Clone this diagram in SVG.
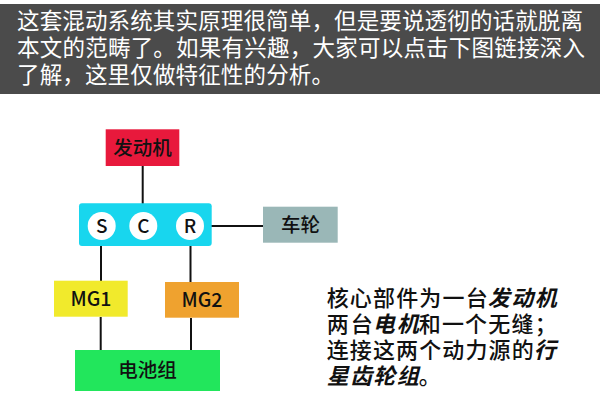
<svg xmlns="http://www.w3.org/2000/svg" width="600" height="417" viewBox="0 0 600 417">
<style>
.hd{font-family:"Noto Sans CJK SC","Noto Sans CJK JP",sans-serif;font-size:22.5px;fill:#ffffff}
.lb{font-family:"Noto Sans CJK SC","Noto Sans CJK JP",sans-serif;font-size:19.5px;font-weight:500;fill:#111111;text-anchor:middle}
.ltr{font-family:"Noto Sans CJK SC","Open Sans",sans-serif;font-size:19px;font-weight:500;fill:#111111;text-anchor:middle}
.bx{stroke:none}
.ln{stroke:#111111;stroke-width:2;fill:none}
.rt{font-family:"Noto Sans CJK SC","Noto Sans CJK JP",sans-serif;font-size:22px;font-weight:500;fill:#111111}
.em{font-weight:bold;font-style:italic}
</style>
<rect x="0" y="0" width="600" height="417" fill="#ffffff"/>
<g id="header">
<rect x="0" y="4" width="600" height="90" fill="#4b4b4b"/>
<text class="hd" x="17" y="29" textLength="566" lengthAdjust="spacing">这套混动系统其实原理很简单，但是要说透彻的话就脱离</text>
<text class="hd" x="17" y="56" textLength="568" lengthAdjust="spacing">本文的范畴了。如果有兴趣，大家可以点击下图链接深入</text>
<text class="hd" x="17" y="83" textLength="317" lengthAdjust="spacing">了解，这里仅做特征性的分析。</text>
</g>
<g id="connectors">
<line class="ln" x1="142.7" y1="166" x2="142.7" y2="204"/>
<line class="ln" x1="101.7" y1="226" x2="190" y2="226"/>
<line class="ln" x1="190" y1="226" x2="263" y2="226"/>
<line class="ln" x1="101" y1="246" x2="101" y2="281"/>
<line class="ln" x1="190.5" y1="246" x2="190.5" y2="282"/>
<line class="ln" x1="100.7" y1="317" x2="100.7" y2="350"/>
<line class="ln" x1="191" y1="318" x2="191" y2="350"/>
</g>
<g id="engine">
<rect class="bx" x="105.7" y="129.3" width="73.6" height="36.7" fill="#e8193c"/>
<text class="lb" x="142.5" y="154.5">发动机</text>
</g>
<g id="planetary">
<rect class="bx" x="79" y="203.3" width="132.7" height="42.7" rx="3" fill="#18d6ee"/>
</g>
<g id="S">
<circle cx="101.7" cy="226" r="14" fill="#ffffff"/>
<text class="ltr" x="101.7" y="232.6">S</text>
</g>
<g id="C">
<circle cx="143.3" cy="226" r="14" fill="#ffffff"/>
<text class="ltr" x="143.3" y="232.6">C</text>
</g>
<g id="R">
<circle cx="190" cy="226" r="14" fill="#ffffff"/>
<text class="ltr" x="190" y="232.6">R</text>
</g>
<g id="wheel">
<rect class="bx" x="263" y="206.7" width="74.7" height="36" fill="#9ab7b7"/>
<text class="lb" x="300.5" y="231.5">车轮</text>
</g>
<g id="MG1">
<rect class="bx" x="54" y="280.7" width="73.7" height="36" fill="#f1ea2c"/>
<text class="lb" x="91" y="305.8">MG1</text>
</g>
<g id="MG2">
<rect class="bx" x="165" y="282" width="74" height="35.7" fill="#efa22f"/>
<text class="lb" x="202" y="306.8">MG2</text>
</g>
<g id="battery">
<rect class="bx" x="75" y="350" width="145" height="41" fill="#22e65c"/>
<text class="lb" x="147.5" y="377">电池组</text>
</g>
<g id="note">
<text class="rt" x="326.7" y="306" textLength="161" lengthAdjust="spacing">核心部件为一台</text>
<text class="rt em" x="487.7" y="306" textLength="69" lengthAdjust="spacing">发动机</text>
<text class="rt" x="326.7" y="332" textLength="46" lengthAdjust="spacing">两台</text>
<text class="rt em" x="372.7" y="332" textLength="46" lengthAdjust="spacing">电机</text>
<text class="rt" x="418.7" y="332" textLength="138" lengthAdjust="spacing">和一个无缝；</text>
<text class="rt" x="326.7" y="358" textLength="207" lengthAdjust="spacing">连接这两个动力源的</text>
<text class="rt em" x="533.7" y="358">行</text>
<text class="rt em" x="326.7" y="384" textLength="92" lengthAdjust="spacing">星齿轮组</text>
<text class="rt" x="418.7" y="384">。</text>
</g>
</svg>
